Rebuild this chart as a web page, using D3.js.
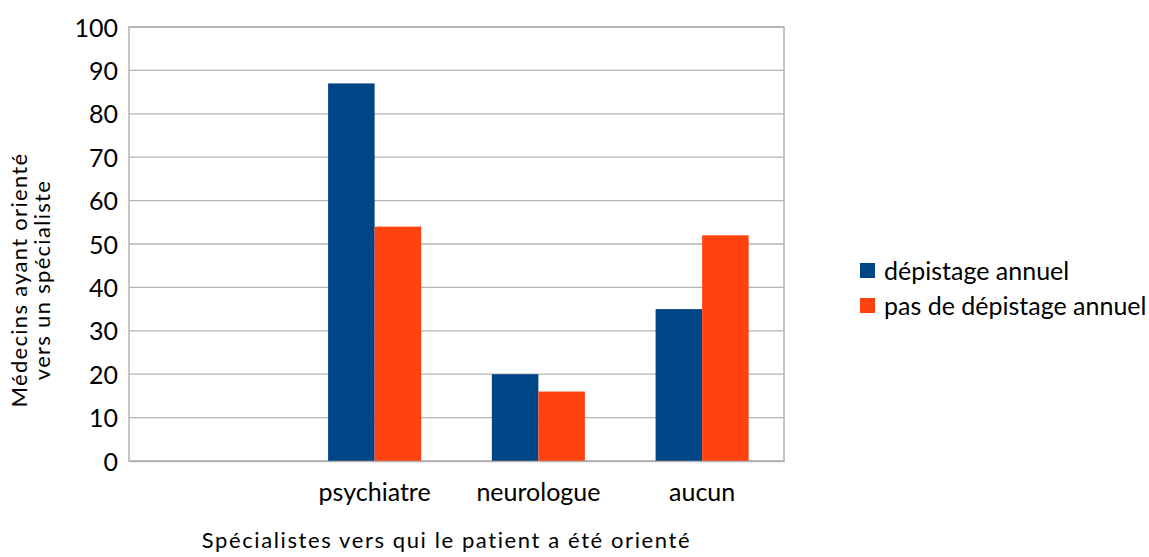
<!DOCTYPE html>
<html>
<head>
<meta charset="utf-8">
<script src="https://cdn.jsdelivr.net/npm/d3@7"></script>
<style>
  body { margin: 0; background: #fff; }
  text { font-family: Lato, "Open Sans", sans-serif; fill: #000; }
</style>
</head>
<body>
<svg id="chart" width="1149" height="557"></svg>
<script>
const categories = ["", "psychiatre", "neurologue", "aucun"];
const seriesNames = ["dépistage annuel", "pas de dépistage annuel"];
const depistage = [null, 87, 20, 35];
const pasDepistage = [null, 54, 16, 52];
const yTicks = [0, 10, 20, 30, 40, 50, 60, 70, 80, 90, 100];
const colors = ["#004586", "#ff420e"];

const svg = d3.select("#chart");
const margin = { top: 27, right: 365, bottom: 96, left: 129 };
const width = 1149 - margin.left - margin.right;
const height = 557 - margin.top - margin.bottom;

const g = svg.append("g").attr("transform", `translate(${margin.left},${margin.top})`);

const x = d3.scaleBand().domain(categories).range([0, width]).padding(0);
const inner = d3.scaleBand().domain([0, 1]).range([0, x.bandwidth()])
  .paddingInner(0).paddingOuter(0.76);
const y = d3.scaleLinear().domain([0, 100]).range([height, 0]);

// gridlines
g.append("g").selectAll("line").data(yTicks).join("line")
  .attr("x1", 0).attr("x2", width)
  .attr("y1", d => y(d)).attr("y2", d => y(d))
  .attr("stroke", "#b3b3b3").attr("stroke-width", 1.3);

// frame
g.append("rect").attr("x", 0).attr("y", 0).attr("width", width).attr("height", height)
  .attr("fill", "none").attr("stroke", "#b3b3b3").attr("stroke-width", 1.5);

// bars
const series = [depistage, pasDepistage];
series.forEach((vals, si) => {
  g.append("g").selectAll("rect")
    .data(categories.map((c, i) => ({ c, v: vals[i] })).filter(d => d.v != null))
    .join("rect")
    .attr("x", d => x(d.c) + inner(si))
    .attr("width", inner.bandwidth())
    .attr("y", d => y(d.v))
    .attr("height", d => y(0) - y(d.v))
    .attr("fill", colors[si]);
});

// y axis
const yAxis = g.append("g").call(d3.axisLeft(y).tickValues(yTicks).tickSize(0).tickPadding(11));
yAxis.select(".domain").remove();
yAxis.selectAll("text").style("font-size", "25px").attr("dy", "0.36em");

// x axis
const xAxis = g.append("g").attr("transform", `translate(0,${height})`)
  .call(d3.axisBottom(x).tickSize(0).tickPadding(22));
xAxis.select(".domain").attr("stroke", "#b3b3b3").attr("stroke-width", 1.5);
xAxis.selectAll("text").style("font-size", "25px");

// axis titles
svg.append("text")
  .attr("x", margin.left + width / 2 - 10).attr("y", 548)
  .attr("text-anchor", "middle").style("font-size", "22px").style("letter-spacing", "1.6px")
  .text("Spécialistes vers qui le patient a été orienté");

const yt = svg.append("text")
  .attr("transform", "translate(27,280) rotate(-90)")
  .attr("text-anchor", "middle").style("font-size", "22px").style("letter-spacing", "1.3px");
yt.append("tspan").attr("x", 0).attr("dy", 0).text("Médecins ayant orienté");
yt.append("tspan").attr("x", 0).attr("dy", 23).text("vers un spécialiste");

// legend
const legend = svg.append("g").attr("transform", "translate(860,263)");
seriesNames.forEach((name, i) => {
  const row = legend.append("g").attr("transform", `translate(0,${i * 35})`);
  row.append("rect").attr("width", 15).attr("height", 15).attr("fill", colors[i]);
  row.append("text").attr("x", 24).attr("y", 8).attr("dy", "0.36em")
    .style("font-size", "25px").text(name);
});
</script>
</body>
</html>
